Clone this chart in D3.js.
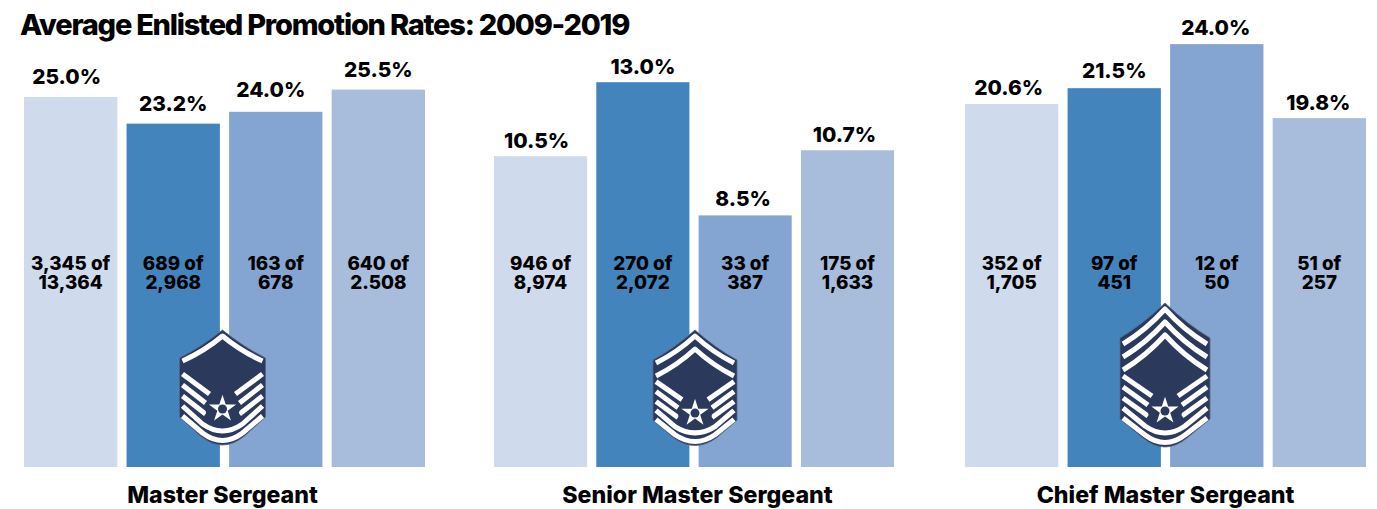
<!DOCTYPE html>
<html><head><meta charset="utf-8">
<script src="https://cdn.jsdelivr.net/npm/d3@7"></script>
<style>html,body{margin:0;padding:0;background:#fff}svg{display:block}text{font-family:Inter,"Noto Sans",sans-serif;fill:#000}</style>
</head><body><svg id="c" width="1377" height="509"></svg>
<script>
const title = "Average Enlisted Promotion Rates: 2009-2019";
const ranks = ["Master Sergeant", "Senior Master Sergeant", "Chief Master Sergeant"];
const groups = ["a", "b", "c", "d"];
const colors = ["#cfdaec", "#4484bd", "#84a5d1", "#a8bcdc"];
const masterRates = [25.0, 23.2, 24.0, 25.5];
const seniorRates = [10.5, 13.0, 8.5, 10.7];
const chiefRates = [20.6, 21.5, 24.0, 19.8];
const masterCounts = [["3,345 of", "13,364"], ["689 of", "2,968"], ["163 of", "678"], ["640 of", "2.508"]];
const seniorCounts = [["946 of", "8,974"], ["270 of", "2,072"], ["33 of", "387"], ["175 of", "1,633"]];
const chiefCounts = [["352 of", "1,705"], ["97 of", "451"], ["12 of", "50"], ["51 of", "257"]];
const rateSets = [masterRates, seniorRates, chiefRates];
const countSets = [masterCounts, seniorCounts, chiefCounts];

// layout only
const panels = [
  {x0: 24, x1: 425, pxPerPoint: 14.8, labelCx: 222.5,
   labelDx: [-4, 0, -5, 0], labelBaseGap: [13, 13, 15, 13],
   badge: {cx: 222.5, tip: 330, half: 43, n: 1, shoulder: 28, drop: 25, shift: 0, scale: 1}},
  {x0: 494, x1: 894, pxPerPoint: 29.6, labelCx: 697.5,
   labelDx: [-4, 0, -2, -3], labelBaseGap: [8, 8, 9, 8],
   badge: {cx: 695, tip: 330, half: 42, n: 2, shoulder: 30, drop: 27, shift: 12, scale: 0.9}},
  {x0: 965, x1: 1366, pxPerPoint: 17.62, labelCx: 1165.5,
   labelDx: [-3, 0, -1, -1], labelBaseGap: [9, 10, 9, 8],
   badge: {cx: 1165, tip: 303, half: 45, n: 3, shoulder: 35, drop: 35, shift: 29, scale: 1}}
];
const baseY = 467;
const svg = d3.select("#c");

svg.append("text").attr("x", 20).attr("y", 34.5).attr("font-size", 29)
  .attr("font-weight", 800).attr("letter-spacing", -1.24).text(title);

function drawBadge(g, b) {
  const navy = "#2b3a5c";
  const s = b.half, w = s - 3;
  const Y = v => b.shift + b.scale * v;
  g.append("path").attr("fill", navy).attr("stroke", "#55647f").attr("stroke-width", 0.8).attr("d",
    `M0,0 Q${-s * 0.5},${b.shoulder * 0.62} ${-s},${b.shoulder} L${-s},${Y(87)} L${-22},${Y(106)} Q0,${Y(124)} 22,${Y(106)} L${s},${Y(87)} L${s},${b.shoulder} Q${s * 0.5},${b.shoulder * 0.62} 0,0 Z`);
  const white = sel => sel.attr("fill", "none").attr("stroke", "#fff").attr("stroke-width", 5).attr("stroke-linejoin", "round");
  d3.range(b.n).forEach(i => {
    const top = 6 + i * 13, end = top + b.drop;
    white(g.append("path")).attr("d", `M${-w},${end} Q${-w * 0.45},${top + b.drop * 0.6} 0,${top} Q${w * 0.45},${top + b.drop * 0.6} ${w},${end}`);
  });
  const wing = [[44, 64, -13], [55, 73, -17], [66, 84, -17]];
  [-1, 1].forEach(side => wing.forEach(([y0, y1, x1]) => {
    white(g.append("path")).attr("d", `M${side * w},${Y(y0)} L${side * -x1},${Y(y1)}`);
  }));
  [[76, 94, 108], [86, 103, 118]].forEach(([y0, y1, yc]) => {
    white(g.append("path")).attr("d", `M${-w},${Y(y0)} L${-20},${Y(y1)} Q0,${Y(yc)} 20,${Y(y1)} L${w},${Y(y0)}`);
  });
  const star = g.append("g").attr("transform", `translate(0,${Y(79)})`);
  star.append("circle").attr("r", 17).attr("fill", navy);
  star.append("path").attr("fill", "#fff").attr("d", d3.symbol(d3.symbolStar, 230)());
  star.append("circle").attr("r", 4.5).attr("fill", navy);
}

panels.forEach((p, pi) => {
  const rates = rateSets[pi], counts = countSets[pi];
  const x = d3.scaleBand().domain(groups).range([p.x0, p.x1]).paddingInner(0.09);
  const maxR = d3.max(rates);
  const y = d3.scaleLinear().domain([0, maxR]).range([baseY, baseY - maxR * p.pxPerPoint]);
  const g = svg.append("g");
  const cell = g.selectAll("g").data(groups).join("g");
  cell.append("rect")
    .attr("x", d => x(d)).attr("width", x.bandwidth())
    .attr("y", (d, i) => y(rates[i])).attr("height", (d, i) => baseY - y(rates[i]))
    .attr("fill", (d, i) => colors[i]);
  cell.append("text")
    .attr("x", (d, i) => x(d) + x.bandwidth() / 2 + p.labelDx[i]).attr("y", (d, i) => y(rates[i]) - p.labelBaseGap[i])
    .attr("text-anchor", "middle").attr("font-size", 20.8).attr("font-weight", 800)
    .text((d, i) => rates[i].toFixed(1) + "%");
  const mid = cell.append("text").attr("text-anchor", "middle").attr("font-size", 18.8).attr("font-weight", 800);
  mid.each(function (d, i) {
    const cx = x(d) + x.bandwidth() / 2;
    d3.select(this).selectAll("tspan").data(counts[i]).join("tspan")
      .attr("x", cx).attr("y", (t, li) => 270 + li * 19).text(t => t);
  });
  svg.append("text").attr("x", p.labelCx).attr("y", 503)
    .attr("text-anchor", "middle").attr("font-size", 23.2).attr("font-weight", 800).text(ranks[pi]);
  const b = svg.append("g").attr("transform", `translate(${p.badge.cx},${p.badge.tip})`);
  drawBadge(b, p.badge);
});
</script></body></html>
